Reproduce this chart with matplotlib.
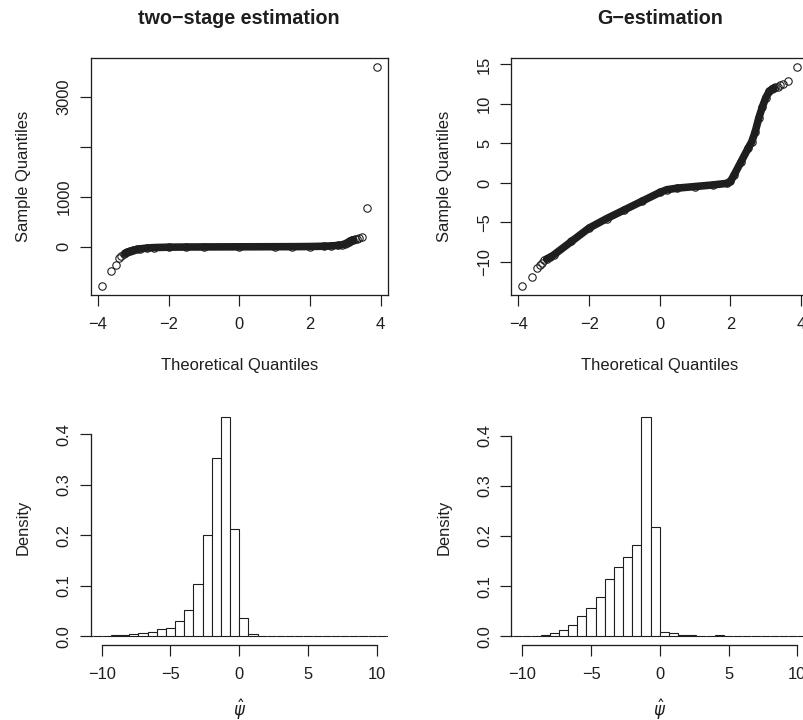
import matplotlib.pyplot as plt
import numpy as np

plt.rcParams['font.family'] = ['Liberation Sans', 'DejaVu Sans']
plt.rcParams['mathtext.fontset'] = 'dejavusans'

INK = '#1e1e1e'

# normal QQ plot of the two-stage estimates (theoretical quantile, sample quantile)
ts_theo = [-3.89, -3.62, -3.48, -3.39, -3.33, -3.27, -3.22, -3.18, -3.1, -3.0, -2.9, -2.8,
           -2.6, -2.4, -2.0, -1.5, -1.0, 0.0, 1.0, 1.5, 2.0, 2.4, 2.6, 2.8, 2.9, 3.0, 3.05,
           3.1, 3.14, 3.18, 3.22, 3.27, 3.33, 3.39, 3.48, 3.62, 3.89]
ts_sample = [-778, -493, -366, -226, -180, -150, -128, -112, -90, -70, -52, -40,
             -24, -15, -7, -4, -2, 0, 2, 3, 6, 12, 18, 28, 40, 60, 80,
             100, 118, 130, 140, 150, 160, 172, 188, 772, 3599]

# normal QQ plot of the G-estimates
g_theo = [-3.89, -3.62, -3.48, -3.39, -3.33, -3.27, -3.2, -3.1, -3.0, -2.5, -2.0, -1.5,
          -1.0, -0.5, 0.0, 0.2, 0.5, 1.0, 1.5, 1.9, 2.0, 2.1, 2.3, 2.5, 2.6, 2.7, 2.8,
          2.9, 3.0, 3.1, 3.18, 3.22, 3.27, 3.33, 3.39, 3.48, 3.62, 3.89]
g_sample = [-13.0, -11.9, -10.8, -10.4, -10.1, -9.8, -9.6, -9.4, -9.1, -7.4, -5.7, -4.5,
            -3.4, -2.3, -1.2, -0.85, -0.65, -0.45, -0.25, -0.05, 0.2, 1.0, 2.7, 4.4, 5.2, 6.5, 8.2,
            9.6, 10.8, 11.6, 11.9, 12.0, 12.1, 12.2, 12.4, 12.5, 12.9, 14.7]

# histograms: bins of width 2/3 starting at -34/3
bin_width = 2.0 / 3.0
bin_left = np.arange(-34, 34, 2) / 3.0
ts_density = [0.0005, 0.0008, 0.0013, 0.002, 0.0026, 0.004, 0.006, 0.0085, 0.014, 0.017,
              0.030, 0.052, 0.103, 0.201, 0.353, 0.433, 0.212, 0.037, 0.004, 0.0015,
              0.0008, 0.0006, 0.0004, 0.0004, 0.0003, 0.0003, 0.0003, 0.0002, 0.0002, 0.0003,
              0.0002, 0.0002, 0.0002, 0.0002]
g_density = [0.0003, 0.0005, 0.0007, 0.0013, 0.0033, 0.0066, 0.013, 0.023, 0.041, 0.057,
             0.078, 0.114, 0.138, 0.159, 0.181, 0.436, 0.217, 0.0093, 0.006, 0.003,
             0.0027, 0.0013, 0.0013, 0.002, 0.0013, 0.0008, 0.0008, 0.0007, 0.0007, 0.0008,
             0.0006, 0.0005, 0.0005, 0.0004]

qq_xticks = [-4, -2, 0, 2, 4]
ts_yticks = [0, 1000, 2000, 3000]
ts_ylabels = ['0', '1000', '', '3000']
g_yticks = [-10, -5, 0, 5, 10, 15]
g_ylabels = ['\u221210', '\u22125', '0', '5', '10', '15']
hist_xticks = [-10, -5, 0, 5, 10]
hist_yticks = [0.0, 0.1, 0.2, 0.3, 0.4]

FS = 16.5


def padded(lo, hi):
    d = 0.04 * (hi - lo)
    return lo - d, hi + d


def style_ticks(ax):
    ax.tick_params(direction='out', length=10.7, width=1.2, color=INK,
                   labelsize=FS, labelcolor=INK)
    ax.tick_params(axis='x', pad=11.5)
    ax.tick_params(axis='y', pad=8.4)
    for lbl in ax.get_yticklabels():
        lbl.set_rotation(90)
        lbl.set_va('center')


def qq_panel(ax, theo, sample, title, yticks, ylabels):
    theo = np.asarray(theo)
    sample = np.asarray(sample)
    dense = np.abs(theo) < 3.25
    # the bulk of the points overlap into a solid band
    ax.plot(theo[dense], sample[dense], '-', color=INK, lw=7.6,
            solid_capstyle='round', solid_joinstyle='round')
    ax.plot(theo, sample, 'o', mfc='none', mec=INK, ms=7.4, mew=1.1)
    ax.set_xlim(padded(theo.min(), theo.max()))
    ax.set_ylim(padded(sample.min(), sample.max()))
    ax.set_xticks(qq_xticks)
    ax.set_xticklabels(['\u22124', '\u22122', '0', '2', '4'])
    ax.set_yticks(yticks)
    ax.set_yticklabels(ylabels)
    for s in ax.spines.values():
        s.set_color(INK)
        s.set_linewidth(1.3)
    style_ticks(ax)
    ax.set_title(title, fontsize=19.8, fontweight='bold', pad=33.5, color=INK)
    ax.set_xlabel('Theoretical Quantiles', fontsize=FS, color=INK)
    ax.set_ylabel('Sample Quantiles', fontsize=FS, color=INK)
    ax.xaxis.set_label_coords(0.5, -0.268)
    ax.yaxis.set_label_coords(-0.2007, 0.5)


def hist_panel(ax, density):
    ax.bar(bin_left, density, width=bin_width, align='edge', color='white',
           edgecolor=INK, linewidth=1.1)
    ax.set_xlim(padded(-10, 10))
    ax.set_ylim(padded(0, max(density)))
    ax.set_xticks(hist_xticks)
    ax.set_xticklabels(['\u221210', '\u22125', '0', '5', '10'])
    ax.set_yticks(hist_yticks)
    ax.set_yticklabels(['%.1f' % v for v in hist_yticks])
    ax.spines['top'].set_visible(False)
    ax.spines['right'].set_visible(False)
    ax.spines['left'].set_bounds(0, 0.4)
    ax.spines['bottom'].set_bounds(-10, 10)
    for s in ax.spines.values():
        s.set_color(INK)
        s.set_linewidth(1.3)
    style_ticks(ax)
    ax.set_xlabel(r'$\hat{\psi}$', fontsize=FS, color=INK)
    ax.set_ylabel('Density', fontsize=FS, color=INK)
    ax.xaxis.set_label_coords(0.5, -0.222)
    ax.yaxis.set_label_coords(-0.2007, 0.5)


fig = plt.figure(figsize=(803 / 72.0, 720 / 72.0), dpi=72)
W, H = 803.0, 720.0
ax1 = fig.add_axes([90.7 / W, (H - 294.5) / H, 297 / W, 236.5 / H])
ax2 = fig.add_axes([511.3 / W, (H - 294.5) / H, 297 / W, 236.5 / H])
ax3 = fig.add_axes([90.7 / W, (H - 645.1) / H, 297 / W, 236.4 / H])
ax4 = fig.add_axes([511.3 / W, (H - 645.1) / H, 297 / W, 236.4 / H])

qq_panel(ax1, ts_theo, ts_sample, 'two\u2212stage estimation', ts_yticks, ts_ylabels)
qq_panel(ax2, g_theo, g_sample, 'G\u2212estimation', g_yticks, g_ylabels)
hist_panel(ax3, ts_density)
hist_panel(ax4, g_density)

fig.savefig('out.png', dpi=72)
